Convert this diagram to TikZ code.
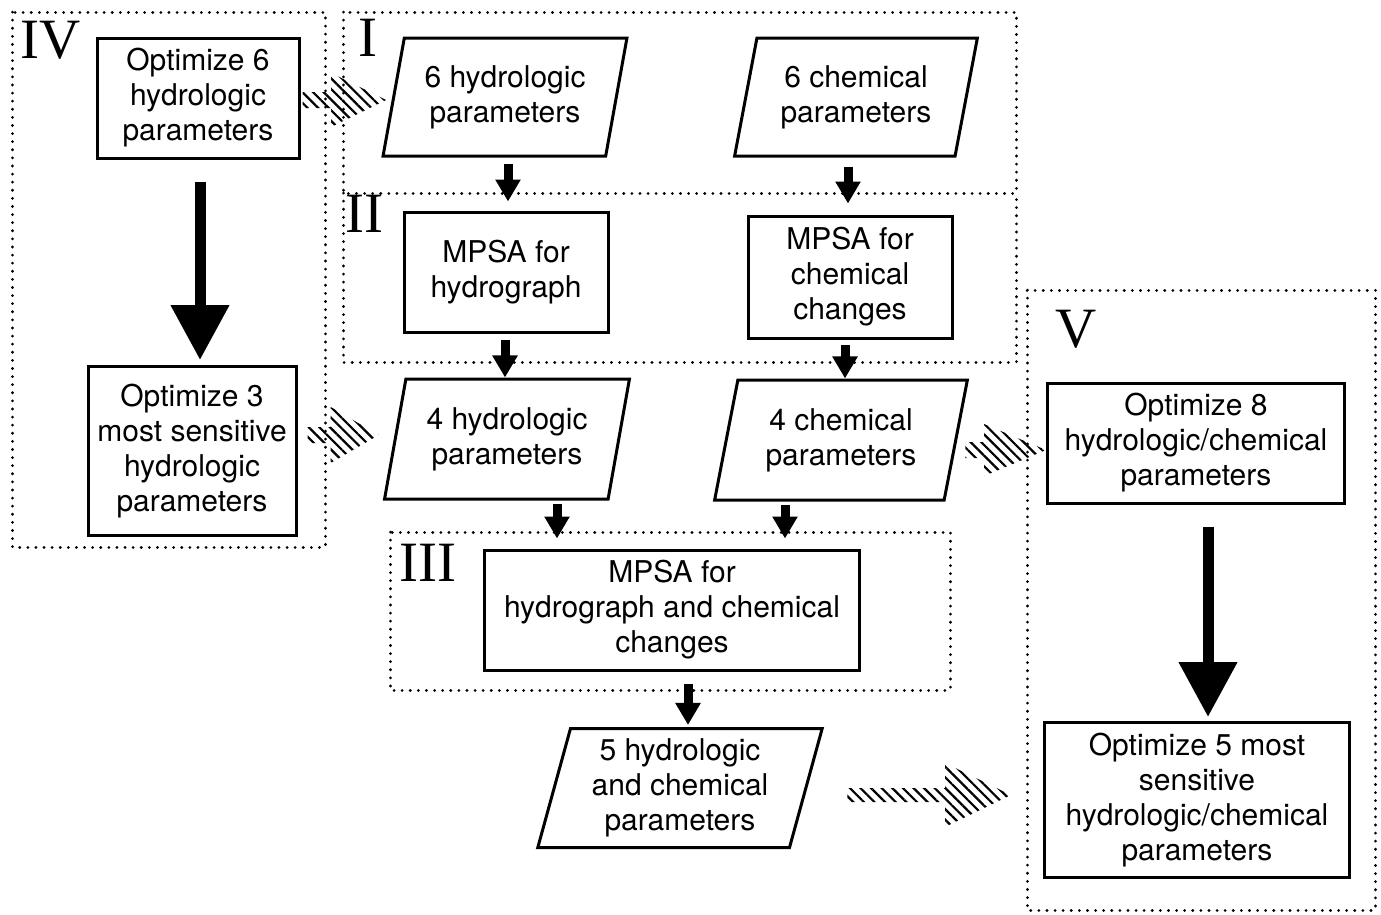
\documentclass[tikz,border=0pt]{standalone}
\usepackage{fontspec}
\setmainfont{TeX Gyre Heros}
\newfontfamily\romfont{Liberation Serif}
\usetikzlibrary{arrows.meta,shapes.geometric,patterns.meta,calc}
\newcommand\hatcharrow[5]{%
  \fill[hatch] let \p1=(#1), \p2=(#2) in
   (\x1,\y1+#3) -- (\x2-#5,\y1+#3) -- (\x2-#5,\y1+#4) -- (\x2,\y1)
   -- (\x2-#5,\y1-#4) -- (\x2-#5,\y1-#3) -- (\x1,\y1-#3) -- cycle;}
\begin{document}
\begin{tikzpicture}[x=1pt,y=-1pt,
  txt/.style={align=center,font=\fontsize{30}{35}\selectfont,inner sep=0pt},
  box/.style={txt,draw,line width=3pt},
  para/.style={txt,draw,line width=3pt,trapezium,trapezium left angle=75,
    trapezium right angle=105,trapezium stretches=true},
  frame/.style={line width=3pt,dash pattern=on 0.1pt off 8pt,line cap=round},
  numeral/.style={font=\romfont\fontsize{57}{57}\selectfont,inner sep=0pt,anchor=base west},
  smallarrow/.style={line width=9pt,-{Triangle[length=22pt,width=24pt]}},
  bigarrow/.style={line width=11pt,-{Triangle[length=55pt,width=56pt]}},
  hatch/.style={pattern={Lines[angle=-45,distance=7.5pt,line width=2.2pt]}}
]
\useasboundingbox (0,0) rectangle (1381,914);
\fill[white] (0,0) rectangle (1381,914);
% frames
\draw[frame] (12,12) rectangle (325,547);
\draw[frame] (343,12) rectangle (1016,193);
\draw[frame] (343,193) -- (343,362) -- (1016,362) -- (1016,193);
\draw[frame] (390,532) rectangle (950,690);
\draw[frame] (1027,290) rectangle (1375,910);
% numerals
\node[numeral] (nIV) at (20,58) {IV};
\node[numeral] (nI) at (358,56) {I};
\node[numeral] (nII) at (345,232) {II};
\node[numeral] (nIII) at (399,581) {III};
\node[numeral] (nV) at (1055,347) {V};
% nodes
\node[box,minimum width=202pt,minimum height=120pt] (o6) at (198,98) {Optimize 6\\hydrologic\\parameters};
\node[box,minimum width=208pt,minimum height=169pt] (o3) at (192,451) {Optimize 3\\most sensitive\\hydrologic\\parameters};
\node[para,minimum width=244pt,minimum height=118pt] (p6h) at (505,97) {6 hydrologic\\parameters};
\node[para,minimum width=243pt,minimum height=118pt] (p6c) at (856,97) {6 chemical\\parameters};
\node[box,minimum width=204pt,minimum height=120pt] (mh) at (506,272) {MPSA for\\hydrograph};
\node[box,minimum width=204pt,minimum height=122pt] (mc) at (850,277) {MPSA for\\chemical\\changes};
\node[para,minimum width=245pt,minimum height=120pt] (p4h) at (507,439) {4 hydrologic\\parameters};
\node[para,minimum width=253pt,minimum height=120pt] (p4c) at (841,440) {4 chemical\\parameters};
\node[box,minimum width=375pt,minimum height=120pt] (m3) at (672,610) {MPSA for\\hydrograph and chemical\\changes};
\node[para,minimum width=285pt,minimum height=119pt] (p5) at (680,788) {5 hydrologic\\and chemical\\parameters};
\node[box,minimum width=297pt,minimum height=120pt] (o8) at (1196,443) {Optimize 8\\hydrologic/chemical\\parameters};
\node[box,minimum width=305pt,minimum height=155pt] (o5) at (1197,800) {Optimize 5 most\\sensitive\\hydrologic/chemical\\parameters};
% arrow columns
\coordinate (c1) at (508,0);
\coordinate (c2) at (848,0);
\coordinate (c3) at (505,0);
\coordinate (c4) at (845,0);
\coordinate (c5) at (557,0);
\coordinate (c6) at (785,0);
\coordinate (c7) at (688,0);
\coordinate (c8) at (200,0);
\coordinate (c9) at (1208,0);
% small arrows
\draw[smallarrow] ($(p6h.south -| c1)+(0,6)$) -- ($(mh.north -| c1)+(0,-9)$);
\draw[smallarrow] ($(p6c.south -| c2)+(0,9)$) -- ($(mc.north -| c2)+(0,-11)$);
\draw[smallarrow] ($(mh.south -| c3)+(0,6)$) -- (p4h.north -| c3);
\draw[smallarrow] ($(mc.south -| c4)+(0,5)$) -- (p4c.north -| c4);
\draw[smallarrow] ($(p4h.south -| c5)+(0,3)$) -- ($(m3.north -| c5)+(0,-10)$);
\draw[smallarrow] ($(p4c.south -| c6)+(0,3)$) -- ($(m3.north -| c6)+(0,-10)$);
\draw[smallarrow] ($(m3.south -| c7)+(0,12)$) -- ($(p5.north -| c7)+(0,-2)$);
% big arrows
\draw[bigarrow] ($(o6.south -| c8)+(0,22)$) -- ($(o3.north -| c8)+(0,-5)$);
\draw[bigarrow] ($(o8.south -| c9)+(0,22)$) -- ($(o5.north -| c9)+(0,-4)$);
% hatched arrows
\coordinate (h1t) at ($(o6.east)+(2,2)$);
\coordinate (h1h) at ($(h1t -| p6h.west)+(-6,0)$);
\hatcharrow{h1t}{h1h}{8pt}{27pt}{55pt}
\coordinate (h2t) at ($(o3.east)+(10,-16)$);
\coordinate (h2h) at ($(h2t -| p4h.west)+(-15,0)$);
\hatcharrow{h2t}{h2h}{8pt}{28pt}{48pt}
\coordinate (h3h) at ($(o8.west)+(0,7)$);
\coordinate (h3t) at ($(h3h -| p4c.east)+(8,0)$);
\hatcharrow{h3t}{h3h}{8pt}{26pt}{62pt}
\coordinate (h4h) at ($(o5.west)+(-32,-5)$);
\coordinate (h4t) at ($(h4h -| p5.east)+(40,0)$);
\hatcharrow{h4t}{h4h}{7pt}{32pt}{66pt}
\end{tikzpicture}
\end{document}
